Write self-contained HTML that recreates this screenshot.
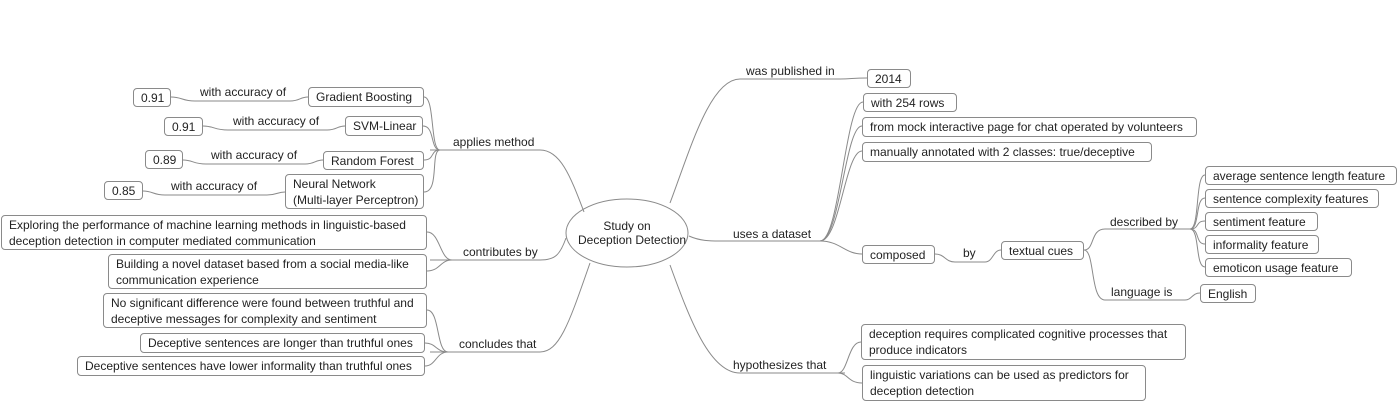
<!DOCTYPE html>
<html><head><meta charset="utf-8"><style>
body{margin:0;width:1398px;height:401px;background:#fff;position:relative;overflow:hidden;font-family:"Liberation Sans",sans-serif;font-size:12px;color:#222}
.b{position:absolute;border:1px solid #8a8a8a;border-radius:4px;box-sizing:border-box;padding:1px 7px;line-height:16px;white-space:nowrap;background:#fff}
.t{position:absolute;line-height:14px;white-space:nowrap}
svg{position:absolute;left:0;top:0}
</style></head><body>
<svg width="1398" height="401" fill="none" stroke="#8a8a8a" stroke-width="1">
<ellipse cx="627" cy="233" rx="61" ry="34" fill="#fff"/>
<!-- left main branches -->
<path d="M584 212 C570 175 560 150 540 150 L430 150"/>
<path d="M566 238 C560 255 555 260 540 260 L430 260"/>
<path d="M590 263 C570 320 560 352 540 352 L430 352"/>
<!-- applies method children -->
<path d="M440 150 C430 150 435 97 424 97"/>
<path d="M440 150 C430 150 435 126 423 126"/>
<path d="M440 150 C430 150 435 160 424 160"/>
<path d="M440 150 C430 150 440 192 424 192"/>
<!-- accuracy lines -->
<path d="M308 97 C300 97 300 101 290 101 L195 101 C182 101 182 97 171 97"/>
<path d="M345 126 C337 126 337 130 327 130 L228 130 C214 130 214 126 203 126"/>
<path d="M323 160 C315 160 315 164 305 164 L206 164 C193 164 193 160 183 160"/>
<path d="M285 192 C277 192 277 195 267 195 L165 195 C153 195 153 191 143 191"/>
<!-- contributes -->
<path d="M452 260 C440 260 440 232 427 232"/>
<path d="M452 260 C440 260 440 271 427 271"/>
<!-- concludes -->
<path d="M448 352 C436 352 440 310 427 310"/>
<path d="M448 352 C436 352 436 343 425 343"/>
<path d="M448 352 C436 352 436 366 425 366"/>
<!-- right main -->
<path d="M670 203 C690 150 710 79 740 79 L840 79 C852 79 852 78 867 78"/>
<path d="M689 236 C700 241 710 241 720 241 L820 241"/>
<path d="M670 265 C690 320 710 373 740 373 L845 373"/>
<!-- dataset children -->
<path d="M820 241 C840 241 845 102 863 102"/>
<path d="M820 241 C840 241 845 126 862 126"/>
<path d="M820 241 C840 241 845 151 862 151"/>
<path d="M820 241 C840 241 845 254 862 254"/>
<path d="M935 254 C945 254 945 262 955 262 L985 262 C993 262 993 250 1001 250"/>
<path d="M1084 250 C1095 250 1090 229 1105 229 L1190 229"/>
<path d="M1084 250 C1095 250 1090 300 1105 300 L1185 300 C1192 300 1192 293 1200 293"/>
<path d="M1190 229 C1200 229 1195 175 1205 175"/>
<path d="M1190 229 C1200 229 1195 198 1205 198"/>
<path d="M1190 229 C1200 229 1195 221 1205 221"/>
<path d="M1190 229 C1200 229 1195 244 1205 244"/>
<path d="M1190 229 C1200 229 1195 267 1205 267"/>
<!-- hypothesizes -->
<path d="M838 373 C848 373 848 342 861 342"/>
<path d="M838 373 C848 373 848 383 862 383"/>
</svg>
<div class="t" style="left:578px;top:219px;width:98px;text-align:center">Study on<br>Deception Detection</div>

<div class="t" style="left:453px;top:135px">applies method</div>
<div class="t" style="left:463px;top:245px">contributes by</div>
<div class="t" style="left:459px;top:337px">concludes that</div>

<div class="b" style="left:133px;top:88px;width:38px;height:19px">0.91</div>
<div class="t" style="left:200px;top:85px">with accuracy of</div>
<div class="b" style="left:308px;top:87px;width:116px;height:20px">Gradient Boosting</div>
<div class="b" style="left:164px;top:117px;width:39px;height:19px">0.91</div>
<div class="t" style="left:233px;top:114px">with accuracy of</div>
<div class="b" style="left:345px;top:116px;width:78px;height:20px">SVM-Linear</div>
<div class="b" style="left:145px;top:150px;width:38px;height:19px">0.89</div>
<div class="t" style="left:211px;top:148px">with accuracy of</div>
<div class="b" style="left:323px;top:151px;width:101px;height:19px">Random Forest</div>
<div class="b" style="left:104px;top:181px;width:39px;height:19px">0.85</div>
<div class="t" style="left:171px;top:179px">with accuracy of</div>
<div class="b" style="left:285px;top:174px;width:139px;height:35px">Neural Network<br>(Multi-layer Perceptron)</div>

<div class="b" style="left:1px;top:215px;width:426px;height:35px">Exploring the performance of machine learning methods in linguistic-based<br>deception detection in computer mediated communication</div>
<div class="b" style="left:108px;top:254px;width:319px;height:35px">Building a novel dataset based from a social media-like<br>communication experience</div>
<div class="b" style="left:103px;top:293px;width:324px;height:35px">No significant difference were found between truthful and<br>deceptive messages for complexity and sentiment</div>
<div class="b" style="left:140px;top:333px;width:285px;height:20px">Deceptive sentences are longer than truthful ones</div>
<div class="b" style="left:77px;top:356px;width:348px;height:20px">Deceptive sentences have lower informality than truthful ones</div>

<div class="t" style="left:746px;top:64px">was published in</div>
<div class="t" style="left:733px;top:227px">uses a dataset</div>
<div class="t" style="left:733px;top:358px">hypothesizes that</div>
<div class="b" style="left:867px;top:69px;width:44px;height:19px">2014</div>
<div class="b" style="left:863px;top:93px;width:94px;height:19px">with 254 rows</div>
<div class="b" style="left:862px;top:117px;width:335px;height:20px">from mock interactive page for chat operated by volunteers</div>
<div class="b" style="left:862px;top:142px;width:290px;height:20px">manually annotated with 2 classes: true/deceptive</div>
<div class="b" style="left:862px;top:245px;width:73px;height:19px">composed</div>
<div class="t" style="left:963px;top:246px">by</div>
<div class="b" style="left:1001px;top:241px;width:83px;height:19px">textual cues</div>
<div class="t" style="left:1110px;top:215px">described by</div>
<div class="t" style="left:1111px;top:285px">language is</div>
<div class="b" style="left:1200px;top:284px;width:56px;height:19px">English</div>
<div class="b" style="left:1205px;top:166px;width:192px;height:19px">average sentence length feature</div>
<div class="b" style="left:1205px;top:189px;width:174px;height:19px">sentence complexity features</div>
<div class="b" style="left:1205px;top:212px;width:113px;height:19px">sentiment feature</div>
<div class="b" style="left:1205px;top:235px;width:114px;height:19px">informality feature</div>
<div class="b" style="left:1205px;top:258px;width:147px;height:19px">emoticon usage feature</div>
<div class="b" style="left:861px;top:324px;width:325px;height:36px">deception requires complicated cognitive processes that<br>produce indicators</div>
<div class="b" style="left:862px;top:365px;width:284px;height:36px">linguistic variations can be used as predictors for<br>deception detection</div>
</body></html>
